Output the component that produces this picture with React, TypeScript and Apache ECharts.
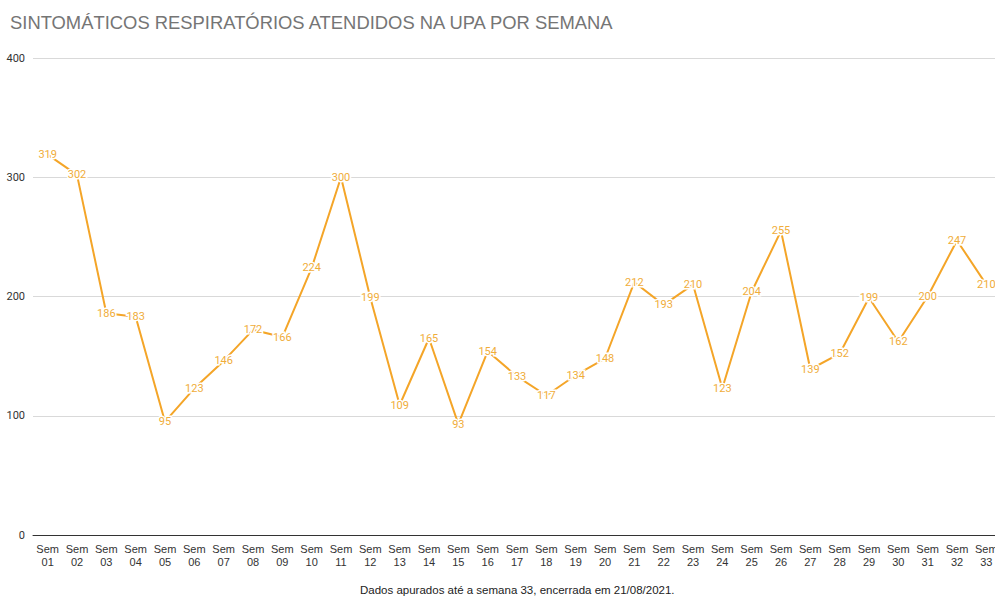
import React, { useEffect, useRef } from "react";
import * as echarts from "echarts";

const weeks = ["01","02","03","04","05","06","07","08","09","10","11","12","13","14","15","16","17","18","19","20","21","22","23","24","25","26","27","28","29","30","31","32","33"];
const categories = weeks.map((w) => "Sem\n" + w);
const values = [319,302,186,183,95,123,146,172,166,224,300,199,109,165,93,154,133,117,134,148,212,193,210,123,204,255,139,152,199,162,200,247,210];
const titleText = "SINTOMÁTICOS RESPIRATÓRIOS ATENDIDOS NA UPA POR SEMANA";
const footerText = "Dados apurados até a semana 33, encerrada em 21/08/2021.";

export default function App() {
  const ref = useRef<HTMLDivElement>(null);
  useEffect(() => {
    if (!ref.current) return;
    const chart = echarts.init(ref.current, null, { renderer: "svg" });
    chart.setOption({
      animation: false,
      backgroundColor: "#ffffff",
      title: {
        text: titleText,
        left: 5,
        top: 8,
        textStyle: { fontFamily: "Liberation Sans", fontSize: 18.4, fontWeight: "normal", color: "#757575" },
      },
      graphic: [
        {
          type: "text",
          left: 360,
          top: 584,
          style: { text: footerText, fontFamily: "Liberation Sans", fontSize: 11.5, fill: "#222222" },
        },
      ],
      grid: { left: 33, width: 968, top: 58, bottom: 63, containLabel: false, outerBoundsMode: "none" },
      xAxis: {
        type: "category",
        data: categories,
        boundaryGap: true,
        axisLine: { show: true, lineStyle: { color: "#333333", width: 1 } },
        axisTick: { show: false },
        axisLabel: { interval: 0, color: "#333333", fontFamily: "Liberation Sans", fontSize: 11, lineHeight: 13, margin: 7 },
      },
      yAxis: {
        type: "value",
        min: 0,
        max: 400,
        interval: 100,
        axisLine: { show: false },
        axisTick: { show: false },
        axisLabel: { color: "#333333", fontFamily: "Roboto", fontSize: 11, margin: 8 },
        splitLine: { lineStyle: { color: "#d9d9d9", width: 1 } },
      },
      series: [
        {
          type: "line",
          data: values,
          showSymbol: true,
          symbol: "circle",
          symbolSize: 0,
          lineStyle: { color: "#f4a528", width: 2 },
          itemStyle: { color: "#f4a528" },
          label: {
            show: true,
            position: "inside",
            color: "#f0ad3a",
            fontFamily: "Roboto",
            fontSize: 11,
            textBorderColor: "#ffffff",
            textBorderWidth: 3,
          },
          labelLayout: { hideOverlap: false },
        },
      ],
    });
    return () => chart.dispose();
  }, []);
  return <div ref={ref} style={{ position: "absolute", left: 0, top: 0, width: 995, height: 598 }} />;
}
